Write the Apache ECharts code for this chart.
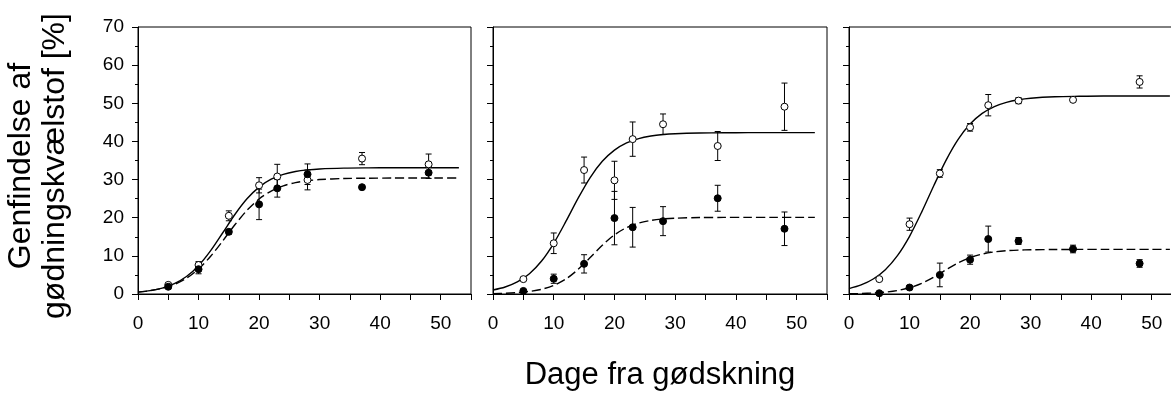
<!DOCTYPE html>
<html>
<head>
<meta charset="utf-8">
<script src="https://cdn.jsdelivr.net/npm/echarts@6/dist/echarts.min.js"></script>
<style>
html,body{margin:0;padding:0;background:#fff;overflow:hidden;}
#chart{width:1171px;height:394px;}
</style>
</head>
<body>
<div id="chart"></div>
<script>
// Sampling days of the measured points
const days = [5, 10, 15, 20, 23, 28, 37, 48];

// Panel 1
const p1Open = [2.4, 7.6, 20.5, 28.5, 30.8, 29.9, 35.5, 34.0];
const p1OpenErr = [0.4, 0.9, 1.3, 2.0, 3.2, 2.6, 1.6, 2.7];
const p1Filled = [1.9, 6.5, 16.3, 23.5, 27.7, 31.4, 28.0, 31.8];
const p1FilledErr = [0.3, 1.2, 0.6, 4.0, 2.3, 2.7, 0.3, 1.5];

// Panel 2
const p2Open = [3.9, 13.3, 32.5, 29.8, 40.6, 44.5, 38.8, 49.1];
const p2OpenErr = [0.3, 2.7, 3.4, 5.0, 4.5, 2.7, 3.8, 6.2];
const p2Filled = [0.8, 4.0, 7.9, 19.9, 17.5, 19.1, 25.1, 17.1];
const p2FilledErr = [0.3, 1.2, 2.4, 7.0, 5.2, 3.8, 3.4, 4.4];

// Panel 3
const p3Open = [3.9, 18.3, 31.6, 43.7, 49.5, 50.7, 50.9, 55.6];
const p3OpenErr = [0.4, 1.6, 1.0, 1.0, 2.8, 0.8, 0.4, 1.6];
const p3Filled = [0.2, 1.7, 5.0, 9.0, 14.4, 13.9, 11.8, 8.0];
const p3FilledErr = [0.3, 0.4, 3.1, 1.2, 3.4, 0.9, 1.0, 1.0];

// Fitted curves, values
const fitDays = [0, 2, 4, 6, 8, 10, 12, 14, 16, 18, 20, 22, 24, 26, 28, 30, 34, 38, 42, 46, 50, 53];
const p1Solid = [0.49, 0.88, 1.56, 2.71, 4.58, 7.43, 11.36, 16.06, 20.84, 24.96, 28.03, 30.09, 31.36, 32.11, 32.54, 32.79, 33.0, 33.07, 33.1, 33.1, 33.1, 33.1];
const p1Dashed = [0.50, 0.87, 1.49, 2.51, 4.14, 6.57, 9.90, 13.93, 18.14, 21.93, 24.91, 27.0, 28.36, 29.2, 29.7, 30.0, 30.28, 30.36, 30.4, 30.4, 30.4, 30.4];
const p2Solid = [1.05, 1.84, 3.17, 5.33, 8.65, 13.3, 19.02, 25.07, 30.54, 34.79, 37.73, 39.61, 40.75, 41.41, 41.8, 42.02, 42.21, 42.27, 42.3, 42.3, 42.3, 42.3];
const p2Dashed = [0.1, 0.18, 0.35, 0.66, 1.24, 2.26, 3.94, 6.43, 9.56, 12.79, 15.5, 17.42, 18.61, 19.3, 19.68, 19.88, 20.04, 20.08, 20.1, 20.1, 20.1, 20.1];
const p3Solid = [1.41, 2.37, 3.93, 6.38, 10.06, 15.13, 21.46, 28.38, 34.97, 40.47, 44.55, 47.34, 49.14, 50.25, 50.92, 51.32, 51.7, 51.83, 51.9, 51.9, 51.9, 51.9];
const p3Dashed = [0.07, 0.13, 0.26, 0.49, 0.91, 1.64, 2.80, 4.43, 6.33, 8.14, 9.54, 10.47, 11.03, 11.34, 11.51, 11.6, 11.67, 11.69, 11.7, 11.7, 11.7, 11.7];

// Axis titles
const yTitle = 'Genfindelse af\ngødningskvælstof [%]';
const xTitle = 'Dage fra gødskning';

const panels = [
  {open: p1Open, openErr: p1OpenErr, filled: p1Filled, filledErr: p1FilledErr, solid: p1Solid, dashed: p1Dashed},
  {open: p2Open, openErr: p2OpenErr, filled: p2Filled, filledErr: p2FilledErr, solid: p2Solid, dashed: p2Dashed},
  {open: p3Open, openErr: p3OpenErr, filled: p3Filled, filledErr: p3FilledErr, solid: p3Solid, dashed: p3Dashed}
];

const FONT = 'Liberation Sans, Arial, sans-serif';
const gridBoxes = [
  {left: 138, width: 333},
  {left: 493, width: 334},
  {left: 849, width: 333}
];

const grids = gridBoxes.map(g => ({
  left: g.left, top: 27, width: g.width, height: 267,
  outerBoundsMode: 'none', containLabel: false,
  show: true, borderColor: '#000', borderWidth: 1, backgroundColor: 'transparent'
}));

const xAxes = gridBoxes.map((g, i) => ({
  type: 'value', gridIndex: i, min: 0, max: 55, interval: 5,
  axisLine: {show: true, onZero: false, lineStyle: {color: '#000', width: 1}},
  axisTick: {show: true, inside: false, length: 6, lineStyle: {color: '#000', width: 1}},
  axisLabel: {
    show: true, margin: 20, fontSize: 19, color: '#000', fontFamily: FONT,
    hideOverlap: false,
    formatter: v => (v % 10 === 0 ? String(v) : '')
  },
  splitLine: {show: false}
}));

const yAxes = gridBoxes.map((g, i) => ({
  type: 'value', gridIndex: i, min: 0, max: 70, interval: 10,
  axisLine: {show: true, onZero: false, lineStyle: {color: '#000', width: 1}},
  axisTick: {show: true, inside: false, length: 6, lineStyle: {color: '#000', width: 1}},
  minorTick: {show: true, splitNumber: 2, length: 3, lineStyle: {color: '#000', width: 1}},
  axisLabel: {show: i === 0, margin: 14, fontSize: 19, color: '#000', fontFamily: FONT},
  splitLine: {show: false},
  minorSplitLine: {show: false}
}));

function errorSeries(i, means, errs) {
  return {
    type: 'custom', xAxisIndex: i, yAxisIndex: i, z: 3,
    data: days.map((d, j) => [d, means[j] - errs[j], means[j] + errs[j]]),
    encode: {x: 0, y: [1, 2]},
    renderItem: function (params, api) {
      const x = api.value(0);
      const lo = api.coord([x, api.value(1)]);
      const hi = api.coord([x, api.value(2)]);
      const w = 3;
      const st = {stroke: '#000', lineWidth: 1};
      return {
        type: 'group',
        children: [
          {type: 'line', shape: {x1: lo[0], y1: lo[1], x2: hi[0], y2: hi[1]}, style: st},
          {type: 'line', shape: {x1: lo[0] - w, y1: lo[1], x2: lo[0] + w, y2: lo[1]}, style: st},
          {type: 'line', shape: {x1: hi[0] - w, y1: hi[1], x2: hi[0] + w, y2: hi[1]}, style: st}
        ]
      };
    }
  };
}

const series = [];
panels.forEach((p, i) => {
  series.push({
    type: 'line', xAxisIndex: i, yAxisIndex: i, z: 2,
    data: fitDays.map((d, j) => [d, p.solid[j]]),
    showSymbol: false, smooth: 0.3, silent: true,
    lineStyle: {color: '#000', width: 1.4, type: 'solid'}
  });
  series.push({
    type: 'line', xAxisIndex: i, yAxisIndex: i, z: 2,
    data: fitDays.map((d, j) => [d, p.dashed[j]]),
    showSymbol: false, smooth: 0.3, silent: true,
    lineStyle: {color: '#000', width: 1.4, type: [9, 4]}
  });
  series.push(errorSeries(i, p.open, p.openErr));
  series.push(errorSeries(i, p.filled, p.filledErr));
  series.push({
    type: 'scatter', xAxisIndex: i, yAxisIndex: i, z: 4,
    data: days.map((d, j) => [d, p.open[j]]),
    symbol: 'circle', symbolSize: 7,
    itemStyle: {color: '#fff', borderColor: '#000', borderWidth: 1, opacity: 1}
  });
  series.push({
    type: 'scatter', xAxisIndex: i, yAxisIndex: i, z: 4,
    data: days.map((d, j) => [d, p.filled[j]]),
    symbol: 'circle', symbolSize: 7,
    itemStyle: {color: '#000', borderColor: '#000', borderWidth: 1, opacity: 1}
  });
});

const chart = echarts.init(document.getElementById('chart'), null, {renderer: 'canvas'});
chart.setOption({
  animation: false,
  backgroundColor: '#fff',
  grid: grids,
  xAxis: xAxes,
  yAxis: yAxes,
  series: series,
  graphic: [
    {
      type: 'text', x: 660, y: 360, z: 10,
      style: {text: xTitle, fontSize: 31, fontFamily: FONT, fill: '#000', textAlign: 'center', textVerticalAlign: 'top'}
    },
    {
      type: 'text', x: 38, y: 166, z: 10, rotation: Math.PI / 2,
      style: {text: yTitle, fontSize: 32, lineHeight: 34, fontFamily: FONT, fill: '#000', textAlign: 'center', textVerticalAlign: 'middle'}
    }
  ]
});
</script>
</body>
</html>
